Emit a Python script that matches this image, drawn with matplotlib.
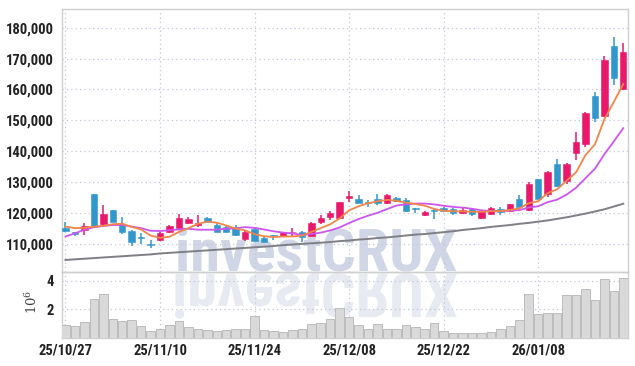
import numpy as np
import pandas as pd
import matplotlib
matplotlib.use("Agg")
import matplotlib.pyplot as plt
from matplotlib.textpath import TextPath
from matplotlib.patches import PathPatch
from matplotlib.font_manager import FontProperties
from matplotlib.transforms import Affine2D

# ---------------- data ----------------
date_labels = ["25/10/27", "25/11/10", "25/11/24", "25/12/08", "25/12/22", "26/01/08"]
date_label_idx = [0, 10, 20, 30, 40, 50]

opens = [115300, 113800, 114500, 126100, 116500, 120900, 116500, 114200, 112300, 110000,
         111300, 113800, 115300, 116900, 116100, 118300, 116100, 115400, 115300, 111500,
         114900, 112000, 112900, 112700, 113700, 113700, 112700, 117000, 118800, 118500,
         125000, 124500, 123700, 124500, 123200, 124800, 124200, 121500, 119400, 121000,
         121500, 121300, 119900, 121300, 118300, 119600, 121200, 120700, 124600, 121000,
         131000, 126100, 135900, 130500, 139400, 142300, 158000, 151400, 174200, 160000]
highs = [117200, 114000, 116700, 126300, 122600, 121100, 118700, 114600, 113500, 111300,
         114000, 116000, 119600, 118700, 119400, 118700, 116700, 116100, 116100, 114100,
         115000, 112400, 113000, 114000, 115300, 114200, 117100, 119200, 120800, 123700,
         127100, 125900, 124200, 126100, 126000, 125100, 124800, 121600, 120700, 121200,
         122000, 121700, 122100, 121700, 121000, 121800, 121900, 123000, 125900, 130200,
         131100, 133600, 137500, 136100, 146200, 152700, 159300, 170700, 177100, 175000]
lows = [114000, 112400, 112900, 115700, 115600, 117100, 113100, 109400, 109900, 108600,
        111000, 113600, 115000, 116400, 115600, 117000, 113800, 113700, 112700, 110900,
        110800, 110600, 111300, 112600, 112700, 110700, 112600, 116600, 117800, 118300,
        123500, 123200, 121900, 122500, 122900, 123600, 120300, 120100, 118900, 118000,
        120400, 119500, 119600, 118900, 118100, 119300, 119400, 120500, 121900, 120800,
        124400, 125300, 128500, 129300, 137200, 141300, 149600, 151000, 161400, 159800]
closes = [114300, 113200, 115900, 115900, 119700, 117200, 114000, 110700, 111800, 109800,
          113500, 115800, 118500, 117900, 116700, 117200, 114000, 114000, 112900, 113800,
          111000, 110700, 112600, 113800, 114000, 112200, 116900, 118500, 120100, 123500,
          125400, 123400, 123400, 123200, 125900, 123900, 120500, 121200, 120300, 120800,
          120700, 119900, 121000, 119600, 120800, 121500, 120200, 122800, 122100, 129300,
          124600, 133400, 128900, 135900, 142900, 152500, 150900, 169600, 163800, 172100]
volumes = [0.88, 0.81, 1.09, 2.74, 3.05, 1.30, 1.16, 1.23, 0.81, 0.48,
           0.60, 0.88, 1.16, 0.74, 0.60, 0.53, 0.48, 0.53, 0.60, 0.60,
           1.51, 0.55, 0.48, 0.39, 0.53, 0.60, 0.95, 1.02, 1.30, 2.07,
           1.44, 0.88, 0.60, 0.95, 0.60, 0.60, 0.88, 0.74, 0.60, 1.02,
           0.48, 0.32, 0.32, 0.32, 0.32, 0.39, 0.60, 0.81, 1.23, 3.05,
           1.65, 1.72, 1.72, 2.98, 2.98, 3.40, 2.63, 4.10, 3.28, 4.17]  # x 10^6
# moving-average values before enough history is visible
ma5_head = [115600, 115100, 115200, 115600]
ma10_head = [112400, 113400, 114600, 115400, 115800, 116100, 116100, 115600, 115100]
ma60 = [104800, 105000, 105200, 105400, 105600, 105800, 106000, 106200, 106400, 106600,
        106900, 107100, 107300, 107500, 107700, 107900, 108100, 108300, 108500, 108700,
        108900, 109100, 109300, 109600, 109800, 110000, 110200, 110400, 110600, 110900,
        111100, 111400, 111600, 111900, 112100, 112400, 112700, 113000, 113200, 113500,
        113800, 114100, 114500, 114800, 115100, 115500, 115800, 116100, 116500, 116800,
        117200, 117600, 118100, 118600, 119200, 119800, 120500, 121200, 122100, 123000]
price_ticks = [110000, 120000, 130000, 140000, 150000, 160000, 170000, 180000]
vol_ticks = [2, 4]
watermark = "investCRUX"

# ---------------- derived ----------------
n = len(closes)
x = np.arange(n)
o = np.array(opens, float); c = np.array(closes, float)
h = np.array(highs, float); l = np.array(lows, float)
cs = pd.Series(c)
ma5 = cs.rolling(5).mean().to_numpy()
ma5[:len(ma5_head)] = ma5_head
ma10 = cs.rolling(10).mean().to_numpy()
ma10[:len(ma10_head)] = ma10_head

UP = "#e8196a"
DOWN = "#3297cb"
GRID = "#c3c7d9"
SPINE = "#cfcfcf"

label_font = ["Roboto Condensed", "Liberation Sans Narrow", "Roboto", "DejaVu Sans"]

W, H = 635, 366
fig = plt.figure(figsize=(W / 100, H / 100), dpi=100, facecolor="white")

# watermark layer (pixel coordinates, y downward)
wax = fig.add_axes([0, 0, 1, 1], zorder=0)
wax.set_xlim(0, W); wax.set_ylim(H, 0); wax.axis("off")
fp = FontProperties(family=label_font, weight="bold", size=40)
renderer = fig.canvas.get_renderer()
wt = wax.text(175, 270.3, watermark, fontproperties=fp, color="#d0d6e6",
              ha="left", va="baseline", zorder=0)
ext = wt.get_window_extent(renderer)
fp.set_size(40 * 282.0 / ext.width)
wt.set_fontproperties(fp)
ext = wt.get_window_extent(renderer)
wt.set_x(175 - (ext.x0 - 175) * 0)  # keep left edge
# mirrored reflection below the panel boundary
tp = TextPath((0, 0), watermark, size=100, prop=FontProperties(family=label_font, weight="bold"))
bb = tp.get_extents()
s = 282.0 / bb.width
refl_tr = Affine2D().translate(-bb.x0, 0).scale(s, s).translate(ext.x0, 273.7)
wax.add_patch(PathPatch(tp, transform=refl_tr + wax.transData, facecolor="#e8eaf2",
                        edgecolor="none"))

left = 62 / W
width = (628 - 62) / W
ax = fig.add_axes([left, 1 - 272 / H, width, (272 - 9) / H], zorder=1)
vax = fig.add_axes([left, 1 - 338 / H, width, (338 - 272) / H], zorder=1, sharex=ax)
for a in (ax, vax):
    a.set_facecolor("none")
    for sp in a.spines.values():
        sp.set_color(SPINE)
        sp.set_linewidth(1.0)
    a.grid(True, linestyle=(0, (1, 2.5)), color=GRID, linewidth=0.9)
    a.set_axisbelow(True)
    a.tick_params(length=0)

# candles
up = c >= o
colors = np.where(up, UP, DOWN)
body_bottom = np.minimum(o, c)
body_h = np.maximum(np.abs(c - o), 300)
ax.vlines(x, l, h, colors=colors, linewidth=1.1, zorder=3)
ax.bar(x, body_h, bottom=body_bottom, width=0.68, color=colors, edgecolor=colors,
       linewidth=0.4, zorder=4)

# moving averages
ax.plot(x, ma60, color="#7f7f85", linewidth=1.4, zorder=2.5)
ax.plot(x, ma10, color="#cc55ee", linewidth=1.3, zorder=5)
ax.plot(x, ma5, color="#f0864a", linewidth=1.3, zorder=5)

ax.set_xlim(-0.37, n - 0.5)
ax.set_ylim(100900, 186050)
ax.set_yticks(price_ticks)
ax.set_yticklabels([f"{v:,}" for v in price_ticks], fontfamily=label_font,
                   fontsize=10.5, fontweight="bold", color="#222222")
ax.tick_params(axis="y", pad=6)
ax.tick_params(axis="x", labelbottom=False)
ax.set_xticks(date_label_idx)

# volume
vax.bar(x, volumes, width=0.9, color="#d9d9d9", edgecolor="#b5b5b5", linewidth=0.6, zorder=3)
vax.set_ylim(0, 4.62)
vax.set_yticks(vol_ticks)
vax.set_yticklabels([str(v) for v in vol_ticks], fontfamily=label_font,
                    fontsize=10.5, fontweight="bold", color="#222222")
vax.tick_params(axis="y", pad=6)
vax.set_xticks(date_label_idx)
vax.set_xticklabels(date_labels, fontfamily=label_font, fontsize=10.5,
                    fontweight="bold", color="#222222")
vax.tick_params(axis="x", pad=4)

fig.text(32 / W, 1 - 302 / H, r"$10^{6}$", rotation=90, fontsize=9.5, color="#444444",
         ha="center", va="center", math_fontfamily="dejavuserif")

fig.savefig("out.png", dpi=100, facecolor="white")
